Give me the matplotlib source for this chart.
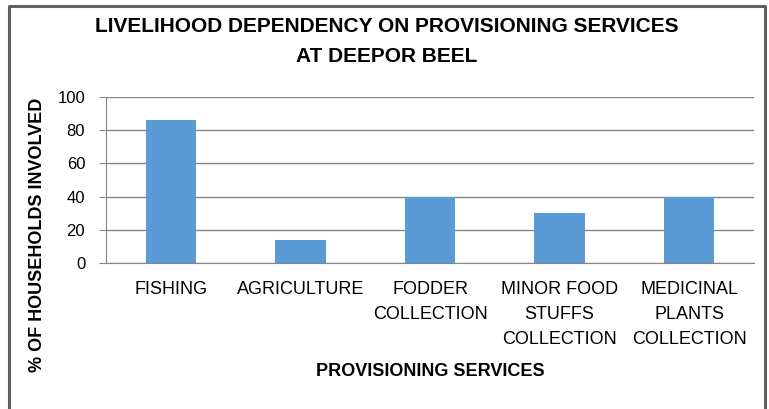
import matplotlib
matplotlib.use('Agg')
import matplotlib.pyplot as plt
from matplotlib.lines import Line2D

plt.rcParams['font.family'] = ['Liberation Sans', 'DejaVu Sans']

categories = ['FISHING', 'AGRICULTURE', 'FODDER\nCOLLECTION',
              'MINOR FOOD\nSTUFFS\nCOLLECTION', 'MEDICINAL\nPLANTS\nCOLLECTION']
households = [86, 14, 40, 30, 40]
y_ticks = [0, 20, 40, 60, 80, 100]

W, H = 769, 409
fig = plt.figure(figsize=(W / 100, H / 100), dpi=100)

# plot area in pixel coordinates
left, right, top, bottom = 106, 754, 97, 263
ax = fig.add_axes([left / W, 1 - bottom / H, (right - left) / W, (bottom - top) / H])

x = range(len(categories))
ax.bar(x, households, width=0.39, color='#5B9BD5', zorder=3)

ax.set_xlim(-0.5, len(categories) - 0.5)
ax.set_ylim(0, 100)
ax.set_yticks(y_ticks)
ax.set_xticks(list(x))
ax.set_xticklabels(categories, fontsize=13, linespacing=1.6, va='top')
ax.tick_params(axis='y', labelsize=12, length=5, color='#868686', pad=10)
ax.tick_params(axis='x', length=0, pad=13)
ax.grid(axis='y', color='#868686', linewidth=1, zorder=0)

for side in ['top', 'right']:
    ax.spines[side].set_visible(False)
ax.spines['left'].set_color('#868686')
ax.spines['bottom'].set_color('#868686')

fig.text(387 / W, 1 - 27 / H, 'LIVELIHOOD DEPENDENCY ON PROVISIONING SERVICES',
         ha='center', va='center', fontsize=15, fontweight='bold')
fig.text(387 / W, 1 - 57 / H, 'AT DEEPOR BEEL',
         ha='center', va='center', fontsize=15, fontweight='bold')
fig.text(430 / W, 1 - 372 / H, 'PROVISIONING SERVICES',
         ha='center', va='center', fontsize=13, fontweight='bold')
fig.text(38 / W, 1 - 235 / H, '% OF HOUSEHOLDS INVOLVED', rotation=90,
         ha='center', va='center', fontsize=13, fontweight='bold')

# outer frame (left, top, right)
frame_x = [8.5 / W, 8.5 / W, 764.5 / W, 764.5 / W]
frame_y = [0, 1 - 5.5 / H, 1 - 5.5 / H, 0]
fig.add_artist(Line2D(frame_x, frame_y, color='#606060', linewidth=2.2,
                      transform=fig.transFigure))

fig.savefig('out.png', dpi=100)
